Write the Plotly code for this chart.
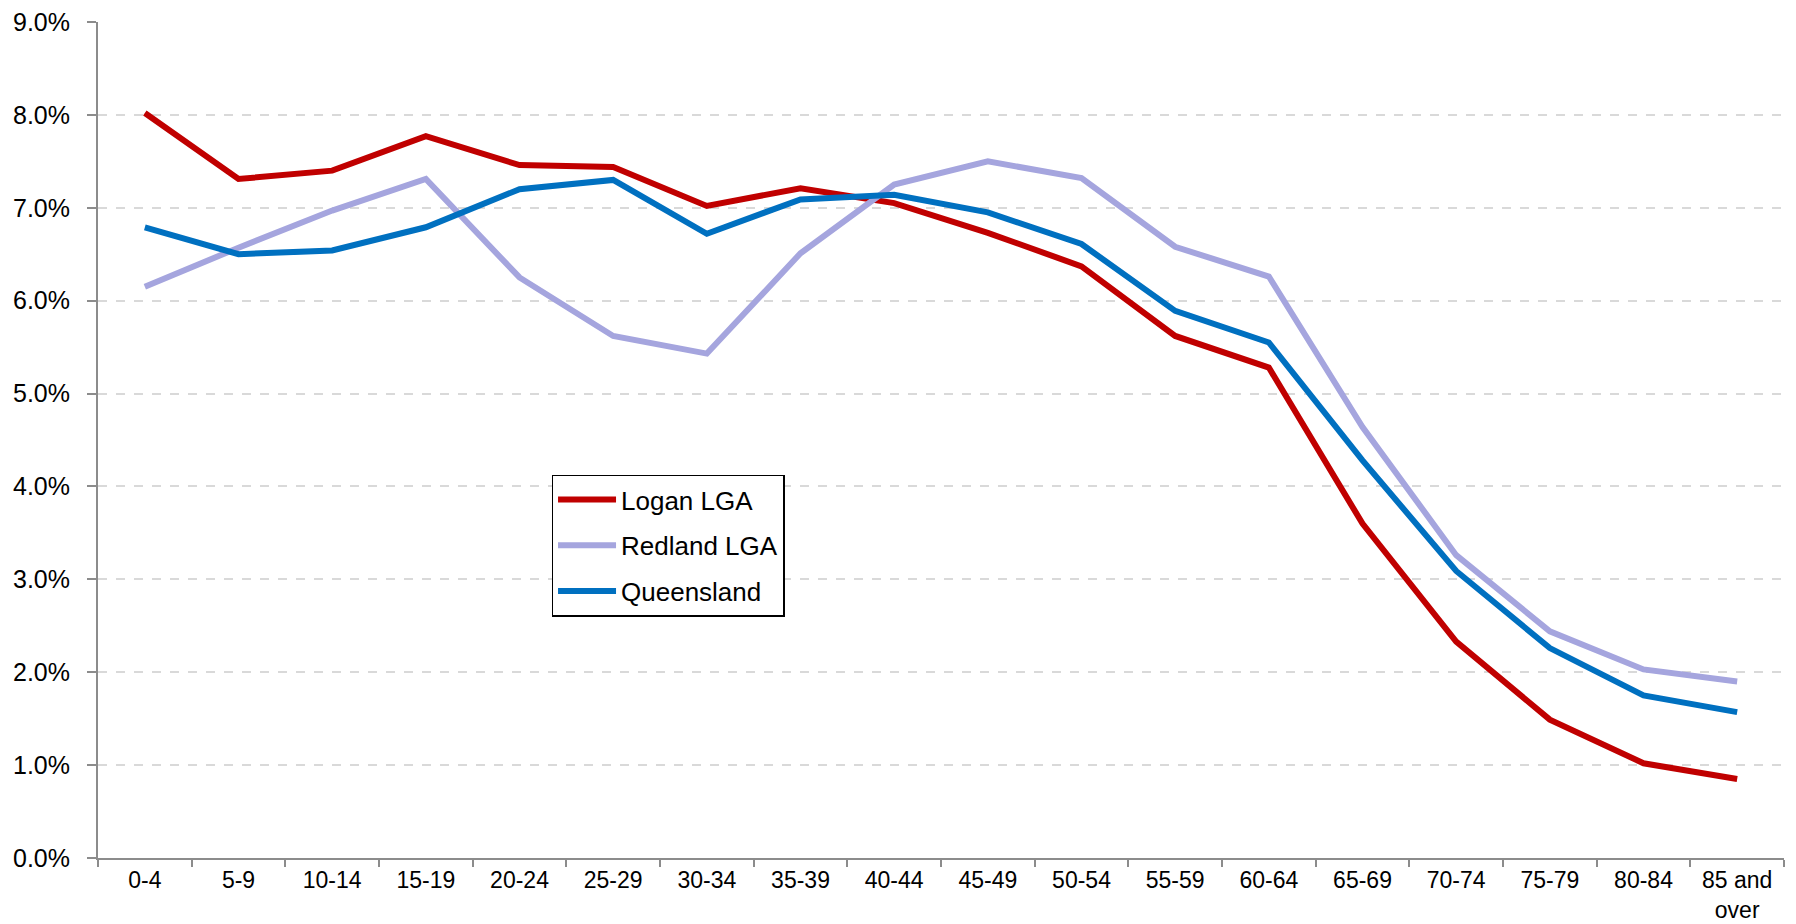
import plotly.graph_objects as go

categories = ["0-4", "5-9", "10-14", "15-19", "20-24", "25-29", "30-34", "35-39", "40-44",
              "45-49", "50-54", "55-59", "60-64", "65-69", "70-74", "75-79", "80-84", "85 and<br>over"]
logan = [8.02, 7.31, 7.40, 7.77, 7.46, 7.44, 7.02, 7.21, 7.05, 6.73, 6.37, 5.62, 5.28, 3.60, 2.33, 1.49, 1.02, 0.85]
redland = [6.15, 6.57, 6.97, 7.31, 6.25, 5.62, 5.43, 6.51, 7.25, 7.50, 7.32, 6.58, 6.26, 4.64, 3.26, 2.44, 2.03, 1.90]
queensland = [6.79, 6.50, 6.54, 6.79, 7.20, 7.30, 6.72, 7.09, 7.14, 6.95, 6.61, 5.89, 5.55, 4.28, 3.09, 2.26, 1.75, 1.57]

series_names = ["Logan LGA", "Redland LGA", "Queensland"]
series_colors = ["#C00000", "#A5A5DE", "#0070C0"]
series_values = [logan, redland, queensland]

fig = go.Figure()
for name, color, vals in zip(series_names, series_colors, series_values):
    fig.add_trace(go.Scatter(
        x=categories, y=vals, mode="lines", name=name, legendgroup=name,
        line=dict(color=color, width=6),
    ))

fig.update_layout(
    width=1780, height=916,
    margin=dict(l=90, r=4, t=14, b=66),
    plot_bgcolor="white", paper_bgcolor="white",
    font=dict(family="Liberation Sans, Arial, sans-serif", size=24, color="black"),
    showlegend=True,
    legend=dict(
        x=0.269, y=0.4586, xanchor="left", yanchor="top",
        bordercolor="black", borderwidth=1.5, bgcolor="white",
        font=dict(size=26), tracegroupgap=9, itemwidth=58,
        traceorder="grouped",
    ),
    xaxis=dict(
        type="category", range=[-0.5, 17.5], automargin=False,
        showline=True, linecolor="#8C8C8C", linewidth=2,
        ticks="outside", tickson="boundaries", ticklen=7, tickcolor="#8C8C8C", tickwidth=2,
        ticklabelstandoff=0, ticklabeloverflow="allow",
        showgrid=False, tickfont=dict(size=23),
    ),
    yaxis=dict(
        range=[0, 9], dtick=1, tickformat=".1f", ticksuffix="%", automargin=False,
        showline=True, linecolor="#8C8C8C", linewidth=2,
        ticks="outside", ticklen=9, tickcolor="#8C8C8C", tickwidth=2,
        ticklabelstandoff=12, ticklabeloverflow="allow",
        showgrid=True, gridcolor="#D9D9D9", gridwidth=1.5, griddash="dash",
        zeroline=False, tickfont=dict(size=25),
    ),
)

fig.write_html("out.html")
